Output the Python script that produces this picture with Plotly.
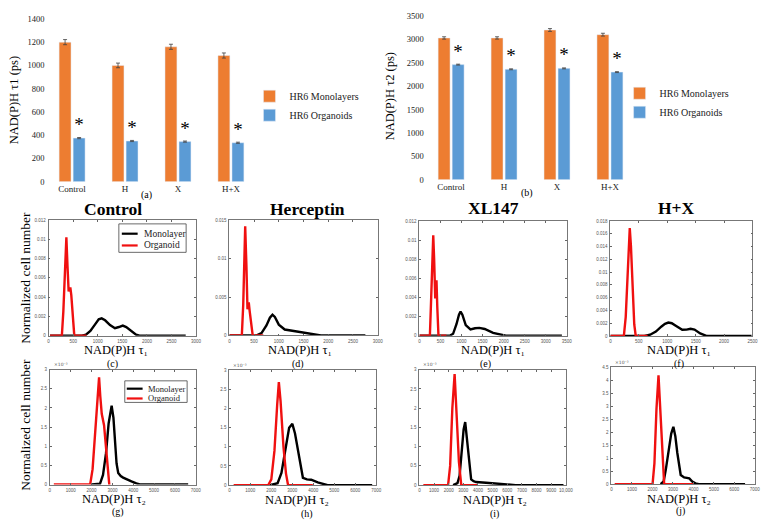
import plotly.graph_objects as go

W, H = 778, 531          # reference picture size
OFF = 8                  # page body margin
WF, HF = W - OFF, H - OFF  # figure size
SERIF = "Liberation Serif"

# ---------------- data: bar charts ----------------
categories = ["Control", "H", "X", "H+X"]
tau1_mono = [1200, 1000, 1160, 1085]
tau1_mono_err = [22, 20, 22, 22]
tau1_org = [375, 350, 345, 335]
tau1_org_err = [5, 5, 5, 5]
tau2_mono = [3030, 3030, 3200, 3100]
tau2_mono_err = [25, 25, 30, 30]
tau2_org = [2460, 2360, 2380, 2300]
tau2_org_err = [10, 10, 10, 10]

# ---------------- data: distributions (tau1, normalized) ----------------
c_mono_x = [30, 680, 760, 850, 950, 1020, 1080, 1150, 1250, 1350, 1430, 1510, 1580, 1680, 1780, 1850, 2790]
c_mono_y = [0, 0, 0.0001, 0.0005, 0.0012, 0.0017, 0.0018, 0.0016, 0.0011, 0.00078, 0.0009, 0.00105, 0.0009, 0.0005, 0.0001, 0, 0]
c_org_x = [30, 270, 300, 335, 362, 385, 408, 428, 445, 462, 490, 523, 770]
c_org_y = [0, 0, 0.0025, 0.0078, 0.0102, 0.0072, 0.0046, 0.0049, 0.0049, 0.0042, 0.0018, 0, 0]

d_mono_x = [0, 552, 650, 750, 820, 872, 920, 1000, 1120, 1250, 1352, 1500, 1700, 1852, 2752]
d_mono_y = [0, 0, 0.0003, 0.0013, 0.0023, 0.0027, 0.0024, 0.0014, 0.00077, 0.00062, 0.00056, 0.00035, 0.0001, 0, 0]
d_org_x = [0, 252, 280, 300, 320, 345, 366, 380, 392, 410, 440, 472, 686]
d_org_y = [0, 0, 0.004, 0.010, 0.0142, 0.009, 0.0034, 0.0040, 0.0043, 0.0032, 0.0012, 0, 0]

e_mono_x = [0, 719, 800, 880, 940, 977, 1020, 1100, 1212, 1320, 1423, 1550, 1750, 2051, 3383]
e_mono_y = [0, 0, 0.0002, 0.0012, 0.0022, 0.00253, 0.0022, 0.0011, 0.00065, 0.00078, 0.00082, 0.0007, 0.0003, 0, 0]
e_org_x = [0, 249, 280, 310, 329, 350, 376, 392, 406, 425, 453, 641]
e_org_y = [0, 0, 0.004, 0.009, 0.0105, 0.008, 0.0039, 0.0055, 0.0058, 0.003, 0, 0]

f_mono_x = [0, 597, 700, 800, 900, 960, 1020, 1080, 1150, 1264, 1340, 1410, 1480, 1580, 1699, 2483]
f_mono_y = [0, 0, 0.0002, 0.0007, 0.0015, 0.0019, 0.0021, 0.002, 0.0016, 0.00097, 0.001, 0.00112, 0.001, 0.0004, 0, 0]
f_org_x = [0, 237, 270, 300, 320, 341, 362, 390, 420, 446, 655]
f_org_y = [0, 0, 0.003, 0.009, 0.0145, 0.0169, 0.014, 0.007, 0.0018, 0, 0]

# ---------------- data: distributions (tau2, in units of 10^-3) ----------------
g_mono_x = [2014, 2408, 2550, 2694, 2820, 2964, 3050, 3121, 3200, 3280, 3400, 3516, 3700, 3915, 4150, 4310, 6637]
g_mono_y = [0, 0.02, 0.25, 0.82, 1.6, 2.06, 1.75, 1.08, 0.55, 0.3, 0.22, 0.18, 0.13, 0.08, 0.03, 0, 0]
g_org_x = [190, 1934, 2050, 2200, 2300, 2361, 2420, 2489, 2600, 2694, 2780, 2851, 2900]
g_org_y = [0, 0, 0.4, 1.6, 2.5, 2.80, 2.3, 1.85, 1.55, 1.0, 0.35, 0, 0]

h_mono_x = [1935, 2300, 2483, 2600, 2719, 2850, 3003, 3130, 3271, 3400, 3507, 3700, 3900, 4215, 4686, 6811]
h_mono_y = [0, 0.05, 0.32, 0.65, 1.08, 1.5, 1.60, 1.35, 0.92, 0.45, 0.19, 0.15, 0.14, 0.07, 0, 0]
h_org_x = [203, 1855, 2000, 2150, 2280, 2359, 2440, 2580, 2700, 2799, 3978]
h_org_y = [0, 0, 0.15, 0.9, 2.1, 2.69, 2.2, 1.0, 0.3, 0, 0]

i_mono_x = [2300, 2600, 2745, 2900, 3020, 3128, 3250, 3400, 3534, 3700, 3872, 4547, 5676, 6574, 9838]
i_mono_y = [0, 0.05, 0.24, 0.85, 1.45, 1.64, 1.2, 0.5, 0.15, 0.1, 0.08, 0.06, 0.02, 0, 0]
i_org_x = [270, 1959, 2100, 2250, 2405, 2550, 2700, 2858, 3986]
i_org_y = [0, 0, 0.5, 2.0, 2.89, 1.9, 0.6, 0, 0]

j_mono_x = [2400, 2550, 2657, 2800, 2920, 3024, 3120, 3217, 3300, 3382, 3550, 3704, 3800, 3946, 4100, 4266, 6522]
j_mono_y = [0, 0.1, 0.57, 1.3, 1.95, 2.21, 1.85, 1.2, 0.65, 0.35, 0.26, 0.25, 0.22, 0.1, 0.03, 0, 0]
j_org_x = [161, 2010, 2100, 2200, 2299, 2400, 2500, 2575, 4024]
j_org_y = [0, 0, 0.8, 2.9, 4.19, 2.6, 0.8, 0, 0]

panel_titles = ["Control", "Herceptin", "XL147", "H+X"]
panel_letters = ["(c)", "(d)", "(e)", "(f)", "(g)", "(h)", "(i)", "(j)"]

ORANGE = "#ED7D31"
BLUE = "#5B9BD5"
RED = "#F01010"


def PX(x):
    return (x - OFF) / WF


def PY(y):
    return 1 - (y - OFF) / HF


fig = go.Figure()

# ---------------- bar charts ----------------
for k, (mono, merr, org, oerr, leg) in enumerate([
        (tau1_mono, tau1_mono_err, tau1_org, tau1_org_err, "legend"),
        (tau2_mono, tau2_mono_err, tau2_org, tau2_org_err, "legend2")]):
    ax = "" if k == 0 else "2"
    fig.add_trace(go.Bar(x=categories, y=mono, name="HR6 Monolayers", marker_color=ORANGE,
                         error_y=dict(type="data", array=merr, color="#404040", thickness=0.8, width=2),
                         xaxis="x" + ax, yaxis="y" + ax, legend=leg, cliponaxis=False))
    fig.add_trace(go.Bar(x=categories, y=org, name="HR6 Organoids", marker_color=BLUE,
                         error_y=dict(type="data", array=oerr, color="#404040", thickness=0.8, width=2),
                         text=["*"] * len(org), textposition="outside", constraintext="none",
                         textfont=dict(family=SERIF, size=19, color="black"),
                         xaxis="x" + ax, yaxis="y" + ax, legend=leg, cliponaxis=False))

# ---------------- distribution panels ----------------
panels = [
    (c_mono_x, c_mono_y, c_org_x, c_org_y),
    (d_mono_x, d_mono_y, d_org_x, d_org_y),
    (e_mono_x, e_mono_y, e_org_x, e_org_y),
    (f_mono_x, f_mono_y, f_org_x, f_org_y),
    (g_mono_x, g_mono_y, g_org_x, g_org_y),
    (h_mono_x, h_mono_y, h_org_x, h_org_y),
    (i_mono_x, i_mono_y, i_org_x, i_org_y),
    (j_mono_x, j_mono_y, j_org_x, j_org_y),
]
for n, (mx, my, ox, oy) in enumerate(panels):
    idx = str(n + 3)
    fig.add_trace(go.Scatter(x=mx, y=my, mode="lines", name="Monolayer", showlegend=False,
                             line=dict(color="black", width=2.4), xaxis="x" + idx, yaxis="y" + idx))
    fig.add_trace(go.Scatter(x=ox, y=oy, mode="lines", name="Organoid", showlegend=False,
                             line=dict(color=RED, width=2.4), xaxis="x" + idx, yaxis="y" + idx))

layout = dict(width=WF, height=HF, margin=dict(l=0, r=0, t=0, b=0),
              paper_bgcolor="white", plot_bgcolor="white",
              barmode="group", bargap=0.47, bargroupgap=0.15,
              font=dict(family=SERIF, color="black"))

# bar axes
bar_boxes = [((45, 259), (180, 14), 1400, 200), ((428, 642), (178, 11), 3500, 500)]
for k, ((x0, x1), (yb, yt), ymax, dt) in enumerate(bar_boxes):
    sfx = "" if k == 0 else str(k + 1)
    layout["xaxis" + sfx] = dict(domain=[PX(x0), PX(x1)], anchor="y" + sfx, type="category",
                                 showline=False, ticks="", showgrid=False,
                                 tickfont=dict(family=SERIF, size=9, color="#222"))
    layout["yaxis" + sfx] = dict(domain=[PY(yb), PY(yt)], anchor="x" + sfx, range=[0, ymax],
                                 dtick=dt, tick0=0, showline=False, showgrid=False, zeroline=False,
                                 ticks="", exponentformat="none",
                                 tickfont=dict(family=SERIF, size=8.5, color="#222"))

# line panel axes: (x0, x1, ybottom, ytop, xmax, xdtick, ymax, ydtick)
line_boxes = [
    (48, 197, 337, 219, 3000, 500, 0.012, 0.002),
    (230.7, 380.5, 336.7, 219.3, 3000, 500, 0.015, 0.005),
    (422.7, 571.7, 337, 220, 3500, 500, 0.012, 0.002),
    (615.7, 759.3, 337.3, 220, 2500, 500, 0.018, 0.002),
    (49.3, 196.7, 488.7, 371.7, 7000, 1000, 3, 0.5),
    (230.7, 379, 489.3, 372.3, 7000, 1000, 3, 0.5),
    (422.7, 570.7, 489.3, 371.7, 10000, 1000, 3, 0.5),
    (616.7, 761.7, 488.3, 369.3, 7000, 1000, 4.5, 0.5),
]
common = dict(ticks="inside", ticklen=2, tickwidth=0.6, tickcolor="#666", showline=True,
              linecolor="#777", linewidth=0.8, mirror="ticks", showgrid=False, zeroline=False,
              exponentformat="none", tickfont=dict(family="Liberation Sans", size=4.5, color="#555"),
              ticklabelstandoff=1)
for n, (x0, x1, yb, yt, xmax, xdt, ymax, ydt) in enumerate(line_boxes):
    idx = str(n + 3)
    layout["xaxis" + idx] = dict(domain=[PX(x0), PX(x1)], anchor="y" + idx, range=[0, xmax],
                                 dtick=xdt, tick0=0, **common)
    layout["yaxis" + idx] = dict(domain=[PY(yb), PY(yt)], anchor="x" + idx, range=[0, ymax],
                                 dtick=ydt, tick0=0, **common)

# legends for bar charts
layout["legend"] = dict(x=PX(251), y=PY(78), xanchor="left", yanchor="top",
                        font=dict(family=SERIF, size=10, color="#222"), bgcolor="rgba(0,0,0,0)",
                        itemwidth=30, tracegroupgap=0)
layout["legend2"] = dict(x=PX(625), y=PY(75), xanchor="left", yanchor="top",
                         font=dict(family=SERIF, size=10, color="#222"), bgcolor="rgba(0,0,0,0)",
                         itemwidth=30, tracegroupgap=0)

fig.update_layout(**layout)

ann = []
shapes = []


def add_text(x, y, text, size, angle=0, bold=False, anchor="center", color="black", family=SERIF):
    if bold:
        text = "<b>" + text + "</b>"
    ann.append(dict(x=PX(x), y=PY(y), xref="paper", yref="paper", text=text, showarrow=False,
                    xanchor=anchor, yanchor="middle", textangle=angle,
                    font=dict(family=family, size=size, color=color)))


# bar chart labels
add_text(13, 97, "NAD(P)H τ1 (ps)", 12.5, angle=-90)
add_text(393, 93, "NAD(P)H τ2 (ps)", 12.5, angle=-90)
add_text(147, 194, "(a)", 10)
add_text(531, 192, "(b)", 10)

# titles
for t, (cx, cy) in zip(panel_titles, [(113, 208), (310, 208), (498, 207), (683, 207)]):
    add_text(cx, cy, t, 17.5, bold=True)

# y titles
add_text(25, 278, "Normalized cell number", 13.5, angle=-90)
add_text(25, 428, "Normalized cell number", 13.5, angle=-90)

# x titles and letters
xt1 = [(116, 351.5), (302, 351.5), (497, 351.5), (685, 351.5)]
xt2 = [(114, 503), (299, 504), (499, 505), (685, 503)]
lt1 = [(113, 365.5), (300, 365.5), (490, 365.5), (685, 365.5)]
lt2 = [(118, 517), (309, 519), (499, 519), (687, 516)]
for (x, y) in xt1:
    add_text(x, y, "NAD(P)H τ₁", 12.5)
for (x, y) in xt2:
    add_text(x, y, "NAD(P)H τ₂", 12.5)
for letter, (x, y) in zip(panel_letters, lt1 + lt2):
    add_text(x, y, letter, 10)

# x10^-3 exponents on lower row
for n in range(4, 8):
    x0, x1, yb, yt = line_boxes[n][:4]
    ann.append(dict(x=PX(x0 + 2), y=PY(yt - 0.5), xref="paper", yref="paper", text="×10⁻³",
                    showarrow=False, xanchor="left", yanchor="bottom",
                    font=dict(family="DejaVu Sans", size=4.5, color="#555")))

# legends inside (c) and (g)
for (bx0, bx1, by0, by1, ym, yo, lx0, lx1, tx, fs) in [
        (119, 187, 223, 252, 233, 245, 122, 138, 142, 9.5),
        (125, 188, 383, 405, 391, 401, 127, 143, 146, 8.5)]:
    shapes.append(dict(type="rect", xref="paper", yref="paper", x0=PX(bx0), x1=PX(bx1),
                       y0=PY(by1), y1=PY(by0), line=dict(color="#444", width=0.8),
                       fillcolor="white", layer="above"))
    shapes.append(dict(type="line", xref="paper", yref="paper", x0=PX(lx0), x1=PX(lx1),
                       y0=PY(ym), y1=PY(ym), line=dict(color="black", width=2.2)))
    shapes.append(dict(type="line", xref="paper", yref="paper", x0=PX(lx0), x1=PX(lx1),
                       y0=PY(yo), y1=PY(yo), line=dict(color=RED, width=2.2)))
    add_text(tx, ym, "Monolayer", fs, anchor="left", color="#222")
    add_text(tx, yo, "Organoid", fs, anchor="left", color="#222")

fig.update_layout(annotations=ann, shapes=shapes)
fig.write_html("out.html")
